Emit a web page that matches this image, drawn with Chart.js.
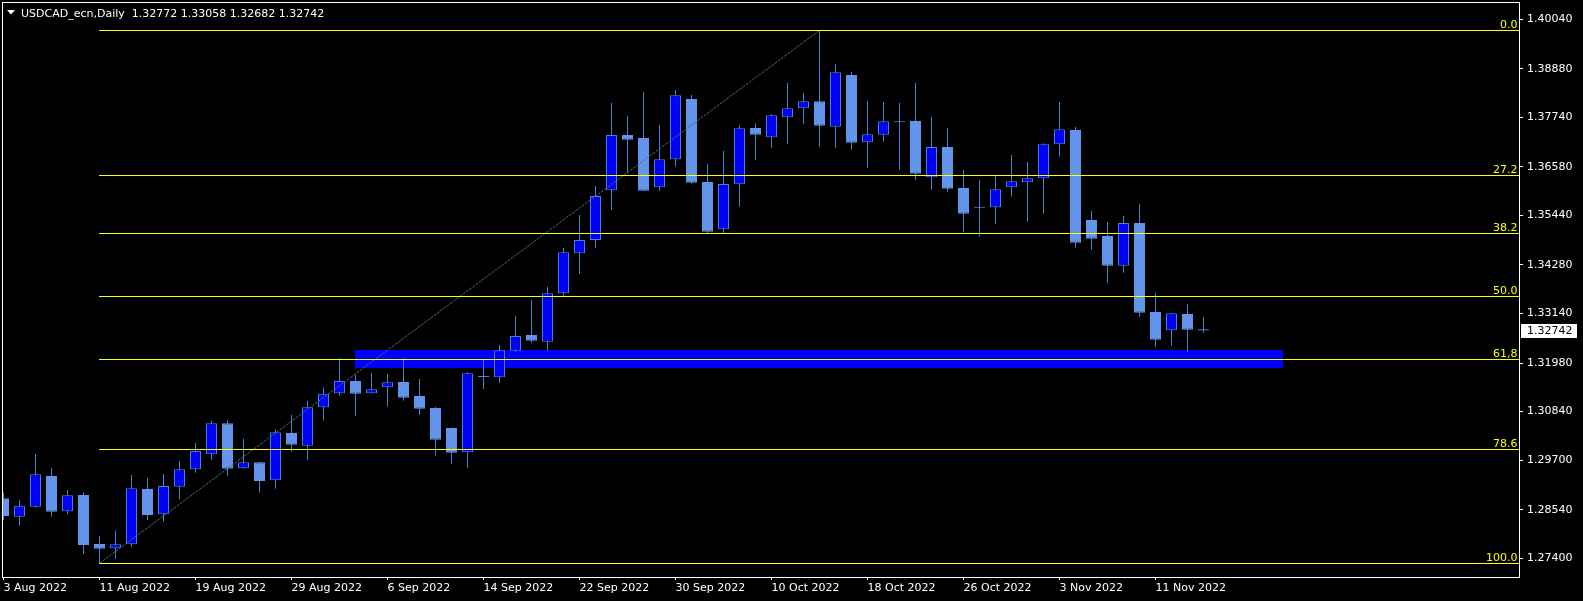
<!DOCTYPE html>
<html lang="en">
<head>
  <meta charset="UTF-8">
  <title>USDCAD_ecn,Daily</title>
  <script src="https://cdnjs.cloudflare.com/ajax/libs/Chart.js/4.4.1/chart.umd.min.js"></script>
  <style>
    html, body { margin: 0; padding: 0; background: #000; overflow: hidden; }
    canvas { display: block; }
  </style>
</head>
<body>
  <canvas id="myChart" width="1583" height="601"></canvas>

  <script>
  var symbol = 'USDCAD_ecn,Daily';

  var dates = [
    '3 Aug 2022','4 Aug 2022','5 Aug 2022','8 Aug 2022','9 Aug 2022','10 Aug 2022','11 Aug 2022','12 Aug 2022',
    '15 Aug 2022','16 Aug 2022','17 Aug 2022','18 Aug 2022','19 Aug 2022','22 Aug 2022','23 Aug 2022','24 Aug 2022',
    '25 Aug 2022','26 Aug 2022','29 Aug 2022','30 Aug 2022','31 Aug 2022','1 Sep 2022','2 Sep 2022','5 Sep 2022',
    '6 Sep 2022','7 Sep 2022','8 Sep 2022','9 Sep 2022','12 Sep 2022','13 Sep 2022','14 Sep 2022','15 Sep 2022',
    '16 Sep 2022','19 Sep 2022','20 Sep 2022','21 Sep 2022','22 Sep 2022','23 Sep 2022','26 Sep 2022','27 Sep 2022',
    '28 Sep 2022','29 Sep 2022','30 Sep 2022','3 Oct 2022','4 Oct 2022','5 Oct 2022','6 Oct 2022','7 Oct 2022',
    '10 Oct 2022','11 Oct 2022','12 Oct 2022','13 Oct 2022','14 Oct 2022','17 Oct 2022','18 Oct 2022','19 Oct 2022',
    '20 Oct 2022','21 Oct 2022','24 Oct 2022','25 Oct 2022','26 Oct 2022','27 Oct 2022','28 Oct 2022','31 Oct 2022',
    '1 Nov 2022','2 Nov 2022','3 Nov 2022','4 Nov 2022','7 Nov 2022','8 Nov 2022','9 Nov 2022','10 Nov 2022',
    '11 Nov 2022','14 Nov 2022','15 Nov 2022','16 Nov 2022'
  ];

  var opens = [
    1.28807,1.28376,1.28610,1.29330,1.28502,1.28885,1.27736,1.27635,1.27729,1.29025,
    1.28432,1.29079,1.29487,1.29839,1.30566,1.29511,1.29652,1.29229,1.30339,1.30041,
    1.30941,1.31270,1.31558,1.31270,1.31410,1.31535,1.31206,1.30925,1.30456,1.29886,
    1.31650,1.31645,1.32269,1.32637,1.32480,1.33615,1.34553,1.34865,1.36030,1.37327,
    1.37257,1.36101,1.36757,1.38171,1.36225,1.35116,1.36171,1.37492,1.37273,1.37742,
    1.37953,1.38117,1.37522,1.38734,1.37156,1.37334,1.37645,1.37655,1.36335,1.37046,
    1.36084,1.35625,1.35631,1.36101,1.36218,1.36312,1.37109,1.37445,1.35334,1.34959,
    1.34262,1.35263,1.33176,1.32747,1.33129,1.32772
  ];
  var highs = [
    1.28939,1.28768,1.29846,1.29518,1.29002,1.28948,1.27923,1.28048,1.29354,1.29290,
    1.29377,1.29682,1.30104,1.30627,1.30644,1.30205,1.29660,1.30426,1.30761,1.31089,
    1.31410,1.32091,1.31699,1.31746,1.31722,1.32098,1.31605,1.30948,1.30460,1.31769,
    1.32074,1.32402,1.33082,1.33458,1.33770,1.34684,1.35451,1.36131,1.38078,1.37773,
    1.38336,1.37562,1.38382,1.38265,1.36647,1.36952,1.37555,1.37602,1.37820,1.38547,
    1.38312,1.39782,1.38992,1.38805,1.38124,1.38101,1.38078,1.38547,1.37749,1.37491,
    1.36506,1.36272,1.36373,1.36858,1.36694,1.37133,1.38101,1.37515,1.35545,1.35287,
    1.35428,1.35709,1.33615,1.33160,1.33364,1.33058
  ];
  var lows = [
    1.28299,1.28165,1.28587,1.28376,1.28432,1.27501,1.27283,1.27391,1.27672,1.28299,
    1.28259,1.28791,1.29408,1.29713,1.29337,1.29500,1.28939,1.29033,1.29900,1.29713,
    1.30627,1.31213,1.30744,1.31265,1.30955,1.31096,1.30761,1.29806,1.29619,1.29525,
    1.31371,1.31518,1.32245,1.32456,1.32269,1.33559,1.34067,1.34670,1.35568,1.36429,
    1.36015,1.36015,1.36584,1.36185,1.35005,1.35036,1.35646,1.36741,1.37029,1.37123,
    1.37592,1.37053,1.37029,1.36982,1.36560,1.37170,1.36513,1.36279,1.36044,1.35997,
    1.35059,1.34942,1.35247,1.35880,1.35294,1.35481,1.36818,1.34684,1.34637,1.33863,
    1.34098,1.33066,1.32363,1.32386,1.32245,1.32682
  ];
  var closes = [
    1.28392,1.28634,1.29370,1.28493,1.28878,1.27712,1.27625,1.27729,1.29042,1.28416,
    1.29096,1.29487,1.29917,1.30566,1.29502,1.29652,1.29213,1.30355,1.30064,1.30941,
    1.31260,1.31558,1.31260,1.31364,1.31528,1.31167,1.30909,1.30182,1.29877,1.31739,
    1.31655,1.32278,1.32614,1.32503,1.33615,1.34576,1.34865,1.35897,1.37327,1.37217,
    1.36021,1.36757,1.38258,1.36209,1.35059,1.36178,1.37484,1.37334,1.37789,1.37953,
    1.38117,1.37545,1.38798,1.37147,1.37344,1.37648,1.37625,1.36420,1.37046,1.36068,
    1.35481,1.35620,1.36054,1.36241,1.36312,1.37109,1.37461,1.34801,1.34895,1.34262,
    1.35263,1.33160,1.32527,1.33146,1.32761,1.32742
  ];

  // price scale labels on the right
  var yTicks = [1.40040, 1.38880, 1.37740, 1.36580, 1.35440, 1.34280, 1.33140, 1.31980, 1.30840, 1.29700, 1.28540, 1.27400];
  // every 6th bar gets a date label
  var xTicks = [0, 6, 12, 18, 24, 30, 36, 42, 48, 54, 60, 66, 72];

  // fibonacci retracement: low bar -> high bar
  var fibLowIdx = 6, fibLow = 1.27283;
  var fibHighIdx = 51, fibHigh = 1.39782;
  var fibLevels = [0, 27.2, 38.2, 50, 61.8, 78.6, 100];
  var fibLabels = ['0.0', '27.2', '38.2', '50.0', '61,8', '78.6', '100.0'];

  // blue support zone
  var zoneFrom = 22, zoneTo = 80, zoneTop = 1.32285, zoneBottom = 1.31870;

  var bullFill = '#0000ff', bullLine = '#4682c8';
  var bearFill = '#6495ed', wickColor = '#4682c8';

  Chart.defaults.font.family = 'DejaVu Sans';
  Chart.defaults.font.size = 11;
  Chart.defaults.color = '#ffffff';

  var bodies = [], wicks = [], fills = [], lines = [];
  for (var i = 0; i < dates.length; i++) {
    bodies.push({x: i, y: [opens[i], closes[i]]});
    wicks.push({x: i, y: [lows[i], highs[i]]});
    var up = closes[i] > opens[i];
    fills.push(up ? bullFill : bearFill);
    lines.push(up ? bullLine : bearFill);
  }

  var overlay = {
    id: 'overlay',
    beforeDraw: function(chart) {
      var c = chart.ctx;
      c.save();
      c.fillStyle = '#000';
      c.fillRect(0, 0, chart.width, chart.height);
      c.restore();
    },
    beforeDatasetsDraw: function(chart) {
      var c = chart.ctx, xs = chart.scales.x, ys = chart.scales.y;
      var x1 = Math.floor(xs.getPixelForValue(zoneFrom));
      var x2 = Math.floor(xs.getPixelForValue(zoneTo));
      var y1 = Math.round(ys.getPixelForValue(zoneTop));
      var y2 = Math.round(ys.getPixelForValue(zoneBottom));
      c.save();
      c.fillStyle = '#0000ff';
      c.fillRect(x1, y1, x2 - x1, y2 - y1);
      c.restore();
    },
    afterDatasetsDraw: function(chart) {
      var c = chart.ctx, xs = chart.scales.x, ys = chart.scales.y, a = chart.chartArea;
      c.save();
      c.beginPath();
      c.rect(a.left, a.top, a.right - a.left, a.bottom - a.top);
      c.clip();

      // trend line from swing low to swing high
      c.strokeStyle = '#4a6b6b';
      c.lineWidth = 1;
      c.setLineDash([3, 1]);
      c.beginPath();
      c.moveTo(xs.getPixelForValue(fibLowIdx), ys.getPixelForValue(fibLow));
      c.lineTo(xs.getPixelForValue(fibHighIdx), ys.getPixelForValue(fibHigh));
      c.stroke();
      c.setLineDash([]);

      // fib levels
      var xStart = Math.floor(xs.getPixelForValue(fibLowIdx));
      c.strokeStyle = '#ffff00';
      c.fillStyle = '#ffff00';
      c.font = '11px "DejaVu Sans"';
      c.textAlign = 'right';
      c.textBaseline = 'alphabetic';
      fibLevels.forEach(function(lv, k) {
        var price = fibHigh - (fibHigh - fibLow) * lv / 100;
        var y = Math.floor(ys.getPixelForValue(price)) + 0.5;
        c.beginPath();
        c.moveTo(xStart, y);
        c.lineTo(a.right, y);
        c.stroke();
        c.fillText(fibLabels[k], a.right - 1.5, y - 2.5);
      });
      c.restore();
    },
    afterDraw: function(chart) {
      var c = chart.ctx, ys = chart.scales.y, a = chart.chartArea;
      c.save();
      // frame
      c.strokeStyle = '#ffffff';
      c.lineWidth = 1;
      c.strokeRect(a.left + 0.5, a.top + 0.5, a.right - a.left, a.bottom - a.top);

      // header
      var n = dates.length - 1;
      c.fillStyle = '#ffffff';
      c.beginPath();
      c.moveTo(7, 10);
      c.lineTo(15, 10);
      c.lineTo(11, 14.5);
      c.closePath();
      c.fill();
      c.font = '11px "DejaVu Sans"';
      c.textAlign = 'left';
      c.textBaseline = 'alphabetic';
      c.fillText(symbol + '  ' + opens[n].toFixed(5) + ' ' + highs[n].toFixed(5) + ' ' +
                 lows[n].toFixed(5) + ' ' + closes[n].toFixed(5), 21, 17);

      // last price box
      var py = Math.round(ys.getPixelForValue(closes[n]));
      c.fillStyle = '#ffffff';
      c.fillRect(a.right + 2, py - 7, 56, 14);
      c.fillStyle = '#000000';
      c.textBaseline = 'middle';
      c.fillText(closes[n].toFixed(5), a.right + 8, py);
      c.restore();
    }
  };

  var ctx = document.getElementById('myChart');
  var myChart = new Chart(ctx, {
    type: 'bar',
    data: {
      datasets: [{
        label: 'body',
        data: bodies,
        order: 0,
        grouped: false,
        barThickness: 11,
        minBarLength: 1,
        backgroundColor: fills,
        borderColor: lines,
        borderWidth: 1,
        borderSkipped: false,
        inflateAmount: 0
      }, {
        label: 'wick',
        data: wicks,
        order: 1,
        grouped: false,
        barThickness: 1,
        backgroundColor: wickColor,
        borderWidth: 0,
        inflateAmount: 0
      }]
    },
    options: {
      responsive: false,
      animation: false,
      devicePixelRatio: 1,
      layout: { padding: { left: 2, top: 2, right: 0, bottom: 0 } },
      plugins: {
        legend: { display: false },
        tooltip: { enabled: false }
      },
      scales: {
        x: {
          type: 'linear',
          min: -0.09375,
          max: 94.71875,
          offset: false,
          grid: { offset: false, drawOnChartArea: false, drawTicks: true, tickLength: 3, color: '#ffffff' },
          border: { display: false },
          ticks: {
            autoSkip: false,
            maxRotation: 0,
            align: 'start',
            padding: 2,
            color: '#ffffff',
            callback: function(v) { return dates[v]; }
          },
          afterBuildTicks: function(scale) {
            scale.ticks = xTicks.map(function(v) { return {value: v}; });
          },
          afterFit: function(scale) {
            scale.height = 24;
            scale.paddingLeft = 0;
            scale.paddingRight = 0;
          }
        },
        y: {
          type: 'linear',
          position: 'right',
          min: 1.26962,
          max: 1.40446,
          beginAtZero: false,
          grid: { drawOnChartArea: false, drawTicks: true, tickLength: 4, color: '#ffffff' },
          border: { display: false },
          ticks: {
            autoSkip: false,
            padding: 4,
            color: '#ffffff',
            callback: function(v) { return v.toFixed(5); }
          },
          afterBuildTicks: function(scale) {
            scale.ticks = yTicks.map(function(v) { return {value: v}; });
          },
          afterFit: function(scale) {
            scale.width = 64;
            scale.paddingTop = 0;
            scale.paddingBottom = 0;
          }
        }
      }
    },
    plugins: [overlay]
  });
  </script>
</body>
</html>
